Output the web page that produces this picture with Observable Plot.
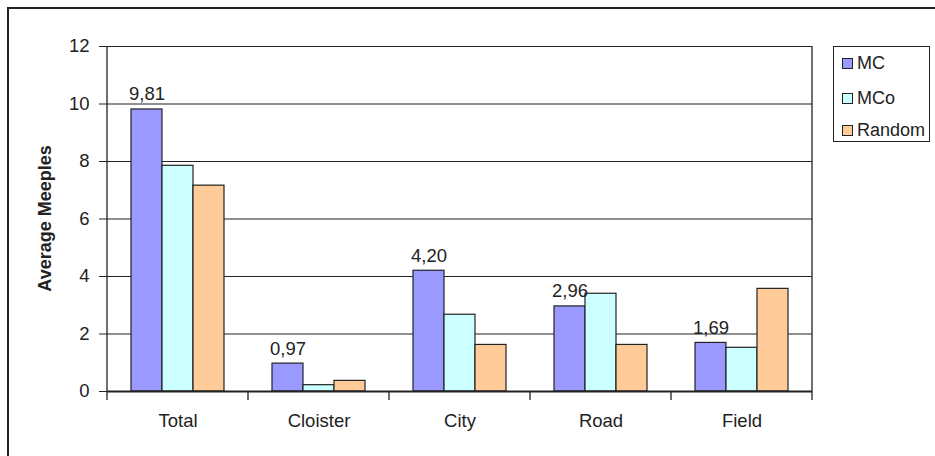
<!DOCTYPE html>
<html>
<head>
<meta charset="utf-8">
<script src="https://cdn.jsdelivr.net/npm/d3@7"></script>
<script src="https://cdn.jsdelivr.net/npm/@observablehq/plot@0.6"></script>
<style>
  html, body { margin: 0; padding: 0; background: #fff; overflow: hidden; }
  #wrap { position: relative; width: 935px; height: 456px; overflow: hidden; font-family: "Liberation Sans", Arial, sans-serif; }
  #chart { position: absolute; left: 0; top: 0; }
  #border { position: absolute; left: 7px; top: 7px; width: 1200px; height: 1200px; border-left: 2px solid #222; border-top: 2px solid #222; pointer-events: none; }
  #legend { position: absolute; left: 833px; top: 46px; width: 97px; height: 96px; border: 1px solid #222; box-sizing: border-box; background: #fff; }
  .item { position: absolute; left: 8px; height: 20px; display: flex; align-items: center; font-size: 18px; color: #222; }
  .sw { width: 9px; height: 9px; border: 1px solid #222; margin-right: 4px; }
</style>
</head>
<body>
<div id="wrap">
  <div id="chart"></div>
  <div id="border"></div>
  <div id="legend"></div>
</div>
<script>
const categories = ["Total", "Cloister", "City", "Road", "Field"];
const series = ["MC", "MCo", "Random"];
const mcValues = [9.81, 0.97, 4.20, 2.96, 1.69];
const mcoValues = [7.85, 0.22, 2.67, 3.40, 1.52];
const randomValues = [7.16, 0.37, 1.62, 1.62, 3.57];
const yTicks = [0, 2, 4, 6, 8, 10, 12];
const colors = ["#9999ff", "#ccffff", "#ffcc99"];

const valuesBySeries = {MC: mcValues, MCo: mcoValues, Random: randomValues};
const data = [];
categories.forEach((c, i) => {
  series.forEach(s => data.push({category: c, series: s, value: valuesBySeries[s][i]}));
});
const fmt = d3.format(".2f");

const chart = Plot.plot({
  width: 935,
  height: 456,
  marginLeft: 105,
  marginRight: 122,
  marginTop: 46,
  marginBottom: 65,
  style: {fontFamily: "'Liberation Sans', Arial, sans-serif", fontSize: "18px", color: "#222", background: "transparent"},
  fx: {domain: categories, padding: 0, label: null},
  x: {domain: series, paddingInner: 0, paddingOuter: 0.76, axis: null},
  y: {domain: [0, 12], axis: null},
  color: {domain: series, range: colors},
  marks: [
    Plot.ruleY(yTicks.filter(t => t > 0), {stroke: "#222", strokeWidth: 1.2}),
    Plot.barY(data, {fx: "category", x: "series", y: "value", fill: "series", stroke: "#222", strokeWidth: 1.2}),
    Plot.text(data.filter(d => d.series === "MC"), {
      fx: "category", x: "series", y: "value",
      text: d => fmt(d.value).replace(".", ","),
      lineAnchor: "bottom", dy: -9, fontSize: 18.5, fill: "#222"
    }),
    Plot.ruleY([0], {stroke: "#222", strokeWidth: 2}),
    Plot.axisY({ticks: yTicks, tickSize: 8, tickPadding: 10, fontSize: 18.5, label: null, stroke: "#222"}),
    Plot.axisFx({anchor: "bottom", tickSize: 0, tickPadding: 22, fontSize: 18.5, label: null})
  ]
});
document.getElementById("chart").appendChild(chart);

// Category boundary ticks, y-axis line and right border from Plot's own scales
const fxs = chart.scale("fx");
const ys = chart.scale("y");
const y0 = ys.apply(0), yTop = ys.apply(12);
const bounds = categories.map(c => fxs.apply(c));
bounds.push(fxs.apply(categories[categories.length - 1]) + fxs.bandwidth);
const g = d3.select(chart).append("g").attr("stroke", "#222").attr("stroke-width", 1.3);
bounds.forEach(b => {
  g.append("line").attr("x1", b).attr("x2", b).attr("y1", y0).attr("y2", y0 + 9);
});
[bounds[0], bounds[bounds.length - 1]].forEach(b => {
  g.append("line").attr("x1", b).attr("x2", b).attr("y1", yTop).attr("y2", y0);
});

// Y-axis title
d3.select(chart).append("text")
  .attr("transform", `translate(51,${(y0 + yTop) / 2}) rotate(-90)`)
  .attr("text-anchor", "middle")
  .attr("font-weight", "bold")
  .attr("font-size", 18)
  .attr("fill", "#222")
  .text("Average Meeples");

// Legend
const legend = document.getElementById("legend");
const rowTops = [6, 41, 73];
series.forEach((s, i) => {
  const it = document.createElement("div");
  it.className = "item";
  it.style.top = rowTops[i] + "px";
  const sw = document.createElement("div");
  sw.className = "sw";
  sw.style.background = colors[i];
  it.appendChild(sw);
  it.appendChild(document.createTextNode(s));
  legend.appendChild(it);
});
</script>
</body>
</html>
